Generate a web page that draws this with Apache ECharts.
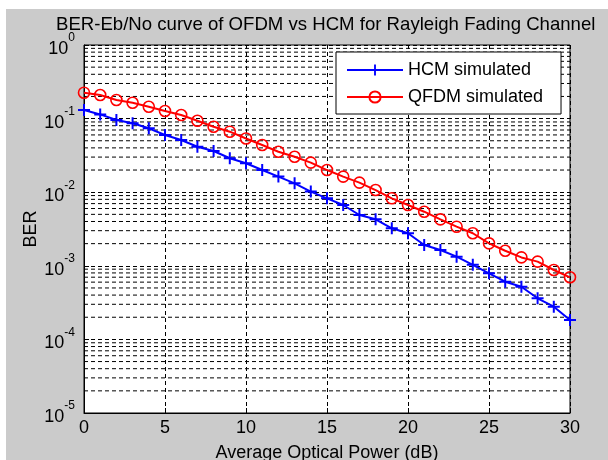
<!DOCTYPE html>
<html>
<head>
<meta charset="utf-8">
<script src="https://cdn.jsdelivr.net/npm/echarts@6/dist/echarts.min.js"></script>
<style>
html, body { margin: 0; padding: 0; background: #fff; }
#chart { position: absolute; left: 6px; top: 9px; width: 602px; height: 451px; }
</style>
</head>
<body>
<div id="chart"></div>
<script>
// Eb/No in dB, 0..30
var snr = [0, 1, 2, 3, 4, 5, 6, 7, 8, 9, 10, 11, 12, 13, 14, 15, 16, 17, 18, 19, 20,
  21, 22, 23, 24, 25, 26, 27, 28, 29, 30];
var hcmBer = [0.131, 0.114, 0.0957, 0.0863, 0.0738, 0.0599, 0.0512, 0.0415, 0.0363, 0.0289,
  0.0247, 0.0200, 0.0163, 0.0132, 0.0102, 0.00826, 0.00670, 0.00490, 0.00428, 0.00323,
  0.00277, 0.00192, 0.00164, 0.00133, 0.00103, 0.000791, 0.000608, 0.000520, 0.000362,
  0.000278, 0.000184];
var qfdmBer = [0.225, 0.209, 0.179, 0.164, 0.145, 0.127, 0.112, 0.0936, 0.0776, 0.0664,
  0.0537, 0.0438, 0.0355, 0.0303, 0.0252, 0.0200, 0.0163, 0.0135, 0.0107, 0.00826,
  0.00670, 0.00543, 0.00428, 0.00340, 0.00277, 0.00202, 0.00160, 0.00130, 0.00114,
  0.000877, 0.000698];
var xTicks = [0, 5, 10, 15, 20, 25, 30];
var decades = [-5, -4, -3, -2, -1, 0];

var font = "'Liberation Sans', Arial, sans-serif";
var dash = [4, 3];
var plusPath = "path://M-1,-6H1V-1H6V1H1V6H-1V1H-6V-1H-1Z";

// minor log grid lines (2..9 x 10^k), drawn as flat dashed series
var minorSeries = [];
decades.slice(0, 5).forEach(function (k) {
  for (var m = 2; m <= 9; m++) {
    var v = m * Math.pow(10, k);
    minorSeries.push({
      type: "line",
      silent: true,
      z: 1,
      symbol: "none",
      data: [[xTicks[0], v], [xTicks[xTicks.length - 1], v]],
      lineStyle: { color: "#000", type: dash, width: 1 }
    });
  }
});

var chart = echarts.init(document.getElementById("chart"));
chart.setOption({
  backgroundColor: "#cbcbcb",
  animation: false,
  textStyle: { fontFamily: font },
  title: {
    text: "BER-Eb/No curve of OFDM vs HCM for Rayleigh Fading Channel",
    left: 45,
    top: 1,
    textStyle: { fontSize: 18.6, fontWeight: "normal", color: "#000", fontFamily: font }
  },
  grid: {
    left: 78,
    right: 38,
    top: 36,
    bottom: 47,
    containLabel: false,
    outerBoundsMode: "none",
    show: true,
    backgroundColor: "#fff",
    borderColor: "#000",
    borderWidth: 1
  },
  legend: {
    data: ["HCM simulated", "QFDM simulated"],
    orient: "vertical",
    left: 330,
    top: 43,
    z: 10,
    itemWidth: 56,
    itemHeight: 14,
    itemGap: 9,
    padding: [9, 18, 8, 10],
    backgroundColor: "#fff",
    borderColor: "#000",
    borderWidth: 1,
    textStyle: { fontSize: 18, color: "#000", fontFamily: font }
  },
  xAxis: {
    type: "value",
    min: 0,
    max: 30,
    interval: 5,
    name: "Average Optical Power (dB)",
    nameLocation: "middle",
    nameGap: 31,
    nameTextStyle: { fontSize: 18, color: "#000", fontFamily: font },
    axisLine: { lineStyle: { color: "#000" } },
    axisTick: { inside: true, length: 5, lineStyle: { color: "#000" } },
    axisLabel: {
      fontSize: 18, color: "#000", margin: 6, fontFamily: font,
      formatter: function (v) { return xTicks.indexOf(v) >= 0 ? String(v) : ""; }
    },
    splitLine: { show: true, lineStyle: { color: "#000", type: dash, width: 1 } }
  },
  yAxis: {
    type: "log",
    logBase: 10,
    min: 1e-5,
    max: 1,
    interval: 1,
    name: "BER",
    nameLocation: "middle",
    nameGap: 44,
    nameMoveOverlap: false,
    nameTextStyle: { fontSize: 18, color: "#000", fontFamily: font },
    axisLine: { lineStyle: { color: "#000" } },
    axisTick: { inside: true, length: 5, lineStyle: { color: "#000" } },
    axisLabel: {
      margin: 9,
      formatter: function (v) {
        var e = Math.round(Math.log10(v));
        return "{b|10}{s|" + e + "}";
      },
      rich: {
        b: { fontSize: 18, color: "#000", fontFamily: font, lineHeight: 26, verticalAlign: "bottom" },
        s: { fontSize: 12, color: "#000", fontFamily: font, lineHeight: 26, verticalAlign: "top" }
      }
    },
    splitLine: { show: true, lineStyle: { color: "#000", type: dash, width: 1 } }
  },
  series: minorSeries.concat([
    {
      name: "HCM simulated",
      type: "line",
      z: 3,
      data: snr.map(function (x, i) { return [x, hcmBer[i]]; }),
      symbol: plusPath,
      symbolSize: 12,
      showAllSymbol: true,
      lineStyle: { color: "#0000ff", width: 2 },
      itemStyle: { color: "#0000ff" }
    },
    {
      name: "QFDM simulated",
      type: "line",
      z: 4,
      data: snr.map(function (x, i) { return [x, qfdmBer[i]]; }),
      symbol: "circle",
      symbolSize: 11,
      showAllSymbol: true,
      lineStyle: { color: "#ff0000", width: 2 },
      itemStyle: { color: "rgba(255,255,255,0)", borderColor: "#ff0000", borderWidth: 1.6 }
    }
  ])
});
</script>
</body>
</html>
